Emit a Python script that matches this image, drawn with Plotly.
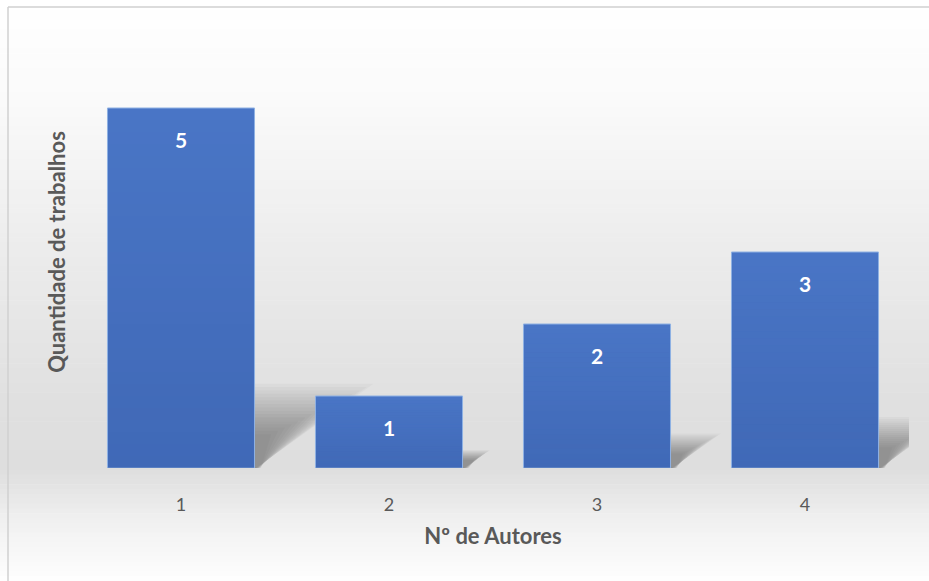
import plotly.graph_objects as go

categories = [1, 2, 3, 4]
tick_labels = ["1", "2", "3", "4"]
values = [5, 1, 2, 3]

W, H = 929, 581
L, R, T, B = 77, 20, 36, 113
pw, ph = W - L - R, H - T - B

def px_x(p):
    return (p - L) / pw

def px_y(p):
    return (H - B - p) / ph

fig = go.Figure()

shapes = []
# background vertical gradient (white -> light gray near baseline -> white)
stops = [(0, 255), (100, 250), (250, 236), (400, 224), (470, 222), (520, 240), (581, 254)]
n = 120
for i in range(n):
    y0 = i * H / n
    y1 = (i + 1) * H / n + 0.6
    ym = (y0 + y1) / 2
    for (a, ca), (b, cb) in zip(stops[:-1], stops[1:]):
        if a <= ym <= b:
            c = ca + (cb - ca) * (ym - a) / (b - a)
            break
    c = int(round(c))
    shapes.append(dict(type="rect", xref="paper", yref="paper",
                       x0=px_x(0), x1=px_x(W), y0=px_y(y1), y1=px_y(y0),
                       fillcolor=f"rgb({c},{c},{c})", line_width=0, layer="below"))

# chart border (top & left visible)
shapes.append(dict(type="line", xref="paper", yref="paper",
                   x0=px_x(8), x1=px_x(W + 5), y0=px_y(7), y1=px_y(7),
                   line=dict(color="#d0d0d0", width=1.5), layer="below"))
shapes.append(dict(type="line", xref="paper", yref="paper",
                   x0=px_x(8), x1=px_x(8), y0=px_y(7), y1=px_y(H + 5),
                   line=dict(color="#d0d0d0", width=1.5), layer="below"))

# perspective shadows (soft, fading towards the far end)
bw = 0.707
for xc, v in zip(categories, values):
    for k in range(16):
        f = 1 - k / 16
        shift = 0.11 * v * f + 0.015
        hgt = 0.23 * v * (0.35 + 0.65 * f) + 0.02
        grow = 0.008 + 0.025 * (1 - f)
        x0 = xc - bw / 2
        x1 = xc + bw / 2
        path = (f"M {x0},0 L {x1 + grow},0 L {x1 + shift + grow},{hgt} "
                f"L {x0 + shift},{hgt} Z")
        shapes.append(dict(type="path", xref="x", yref="y", path=path,
                           fillcolor="rgba(0,0,0,0.024)", line_width=0, layer="below"))

# bar gradient overlays (darker towards bottom)
for xc, v in zip(categories, values):
    m = 30
    for i in range(m):
        y0 = v * i / m
        y1 = v * (i + 1) / m
        frac = 1 - (i + 0.5) / m
        shapes.append(dict(type="rect", xref="x", yref="y",
                           x0=xc - bw / 2 + 0.003, x1=xc + bw / 2 - 0.003, y0=y0, y1=y1,
                           fillcolor=f"rgba(30,60,130,{0.22 * frac:.3f})", line_width=0, layer="above"))

fig.add_trace(go.Bar(
    x=categories, y=values, width=bw,
    marker=dict(color="#4a76c6", line=dict(color="#8fb1e3", width=1)),
    hoverinfo="x+y",
))

annotations = [dict(x=xc, y=v, xref="x", yref="y", text=f"<b>{v}</b>", showarrow=False,
                    yshift=-31, yanchor="middle",
                    font=dict(color="white", size=21, family="Lato"))
               for xc, v in zip(categories, values)]

fig.update_layout(
    width=W, height=H,
    margin=dict(l=L, r=R, t=T, b=B),
    paper_bgcolor="white", plot_bgcolor="rgba(0,0,0,0)",
    shapes=shapes,
    annotations=annotations,
    showlegend=False,
    font=dict(family="Lato", color="#595959"),
    xaxis=dict(tickmode="array", tickvals=categories, ticktext=tick_labels,
               range=[0.5, 4.5], showgrid=False, zeroline=False, showline=False,
               tickfont=dict(size=18, color="#595959"), ticks="", ticklabelstandoff=24,
               title=dict(text="<b>Nº de Autores</b>", font=dict(size=22, color="#595959"), standoff=14)),
    yaxis=dict(range=[0, 6], showgrid=False, zeroline=False, showline=False,
               showticklabels=False, ticks="",
               title=dict(text="<b>Quantidade de trabalhos</b>", font=dict(size=22, color="#595959"), standoff=4)),
)

fig.write_html("out.html")
